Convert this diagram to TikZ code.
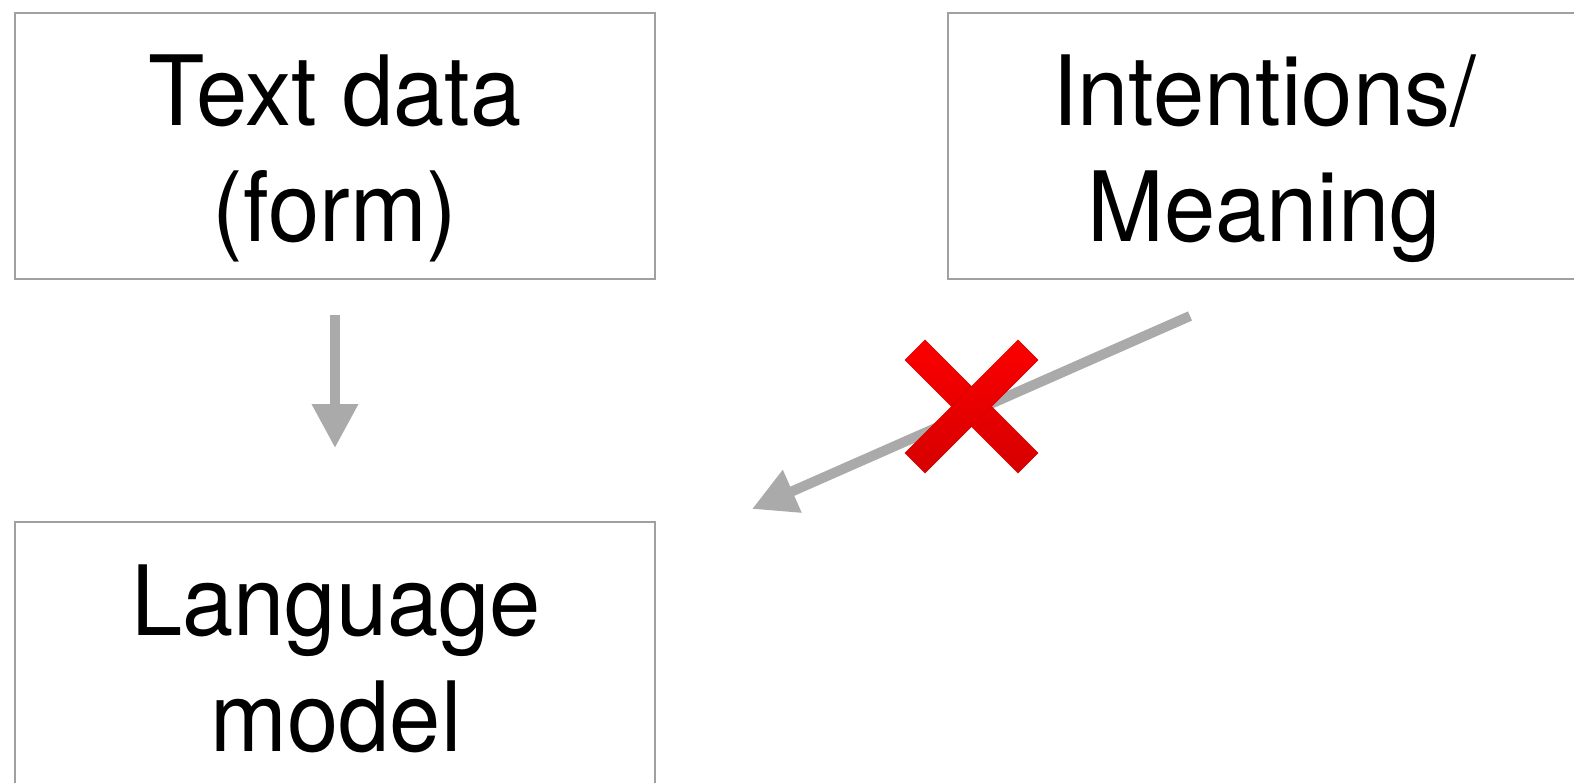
\documentclass[tikz,border=0pt]{standalone}
\usepackage{fontspec}
\setmainfont{TeX Gyre Heros}[FakeStretch=0.95]
\usetikzlibrary{arrows.meta}

\definecolor{boxline}{RGB}{160,160,160}
\definecolor{arrowgray}{RGB}{170,170,170}
\definecolor{crosstop}{RGB}{252,0,0}
\definecolor{crossbot}{RGB}{214,0,0}

\tikzset{
  box/.style={draw=boxline, line width=2pt, rectangle, inner sep=0pt,
              minimum width=640pt, minimum height=266pt},
  lbl/.style={anchor=base, inner sep=0pt, font=\fontsize{97}{116}\selectfont},
  flow/.style={draw=arrowgray, line width=10pt,
               -{Triangle[width=44pt,length=44pt]}},
  crossbar/.style={top color=crosstop, bottom color=crossbot, draw=crossbot, line width=0.4pt}
}

\begin{document}
\begin{tikzpicture}[x=1pt,y=-1pt]
  \useasboundingbox (0,0) rectangle (1574,783);
  \clip (0,0) rectangle (1574,783);

  % boxes
  \node[box] (form)    at (335,146) {};
  \node[box, minimum width=632pt] (meaning) at (1264,146) {};
  \node[box] (lm)      at (335,655) {};

  % labels
  \node[lbl] (form-a) at ([yshift=-114pt]form.north) {Text data};
  \node[lbl] (form-b) at ([yshift=-230pt]form.north) {(form)};
  \node[lbl] (meaning-a) at ([yshift=-114pt]meaning.north) {Intentions/};
  \node[lbl] (meaning-b) at ([yshift=-230pt]meaning.north) {Meaning};
  \node[lbl] (lm-a) at ([xshift=1pt,yshift=-114pt]lm.north) {Language};
  \node[lbl] (lm-b) at ([xshift=1pt,yshift=-230pt]lm.north) {model};

  % form -> language model
  \draw[flow, shorten <=35pt, shorten >=73pt] (form.south) -- (lm.north);

  % meaning -/-> language model
  \coordinate (m-start) at (1190,316);
  \coordinate (m-end)   at (752,509);
  \draw[flow] (m-start) -- (m-end);

  % red cross over the second arrow
  \shade[crossbar] (905,360) -- (925,340) -- (1038,453) -- (1018,473) -- cycle;
  \shade[crossbar] (1018,340) -- (1038,360) -- (925,473) -- (905,453) -- cycle;
\end{tikzpicture}
\end{document}
